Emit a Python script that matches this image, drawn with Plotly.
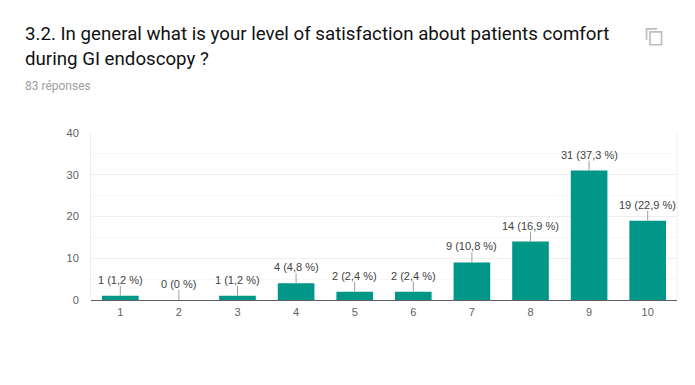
import plotly.graph_objects as go

categories = ["1", "2", "3", "4", "5", "6", "7", "8", "9", "10"]
counts = [1, 0, 1, 4, 2, 2, 9, 14, 31, 19]
labels = ["1 (1,2 %)", "0 (0 %)", "1 (1,2 %)", "4 (4,8 %)", "2 (2,4 %)", "2 (2,4 %)",
          "9 (10,8 %)", "14 (16,9 %)", "31 (37,3 %)", "19 (22,9 %)"]
y_ticks = [0, 10, 20, 30, 40]
title_lines = ["3.2. In general what is your level of satisfaction about patients comfort",
               "during GI endoscopy ?"]
subtitle = "83 réponses"

W, H = 695, 385
L, R, T, B = 90.5, 677.5, 132.5, 300.0


def px(x):
    return (x - L) / (R - L)


def py(y):
    return (B - y) / (B - T)


fig = go.Figure(go.Bar(x=categories, y=counts, marker=dict(color="#009688", line_width=0),
                       width=0.625, hoverinfo="skip",
                       error_y=dict(type="constant", value=2.4, valueminus=0, symmetric=False,
                                    width=0, thickness=1, color="#9e9e9e")))

for i, (v, t) in enumerate(zip(counts, labels)):
    fig.add_annotation(x=i, y=v, xref="x", yref="y", text=t, showarrow=False, yshift=16,
                       yanchor="middle", xanchor="center", borderpad=0,
                       font=dict(family="Liberation Sans", size=11, color="#424242"))

for i, line in enumerate(title_lines):
    fig.add_annotation(x=px(23.5), y=py(33 + i * 25.5), xref="paper", yref="paper", text=line,
                       showarrow=False, xanchor="left", yanchor="middle", borderpad=0,
                       font=dict(family="Roboto", size=18.7, color="#111111"))
fig.add_annotation(x=px(23.5), y=py(85.5), xref="paper", yref="paper", text=subtitle,
                   showarrow=False, xanchor="left", yanchor="middle", borderpad=0,
                   font=dict(family="Roboto", size=12, color="#9e9e9e"))

# copy icon
fig.add_shape(type="rect", xref="paper", yref="paper", x0=px(650.5), x1=px(662),
              y0=py(44), y1=py(31), line=dict(color="#bdbdbd", width=1.7), fillcolor="white")
fig.add_shape(type="path", xref="paper", yref="paper",
              path=f"M {px(647)} {py(39)} L {px(647)} {py(28)} L {px(657.5)} {py(28)}",
              line=dict(color="#bdbdbd", width=1.7))

fig.update_layout(
    width=W, height=H, autosize=False, paper_bgcolor="white", plot_bgcolor="white",
    margin=dict(l=L, r=W - R, t=T, b=H - B, pad=0), showlegend=False, bargap=0.375,
    font=dict(family="Liberation Sans"),
    xaxis=dict(type="category", categoryorder="array", categoryarray=categories,
               range=[-0.5, 9.5], showgrid=False, ticks="", ticklen=0, zeroline=False,
               ticklabelstandoff=4,
               tickfont=dict(family="Liberation Sans", size=11, color="#616161"),
               showline=False, fixedrange=True),
    yaxis=dict(range=[0, 40], tickvals=y_ticks, showgrid=True, gridcolor="#eeeeee", gridwidth=1,
               minor=dict(dtick=5, showgrid=True, gridcolor="#f7f7f7", gridwidth=1, ticks=""),
               zeroline=True, zerolinecolor="#616161", zerolinewidth=1, showline=True,
               linecolor="#eeeeee", linewidth=1, ticks="", ticklabelstandoff=9,
               tickfont=dict(family="Liberation Sans", size=11, color="#616161"), fixedrange=True),
)
fig.add_shape(type="line", xref="paper", yref="paper", x0=1, x1=1, y0=0, y1=1,
              line=dict(color="#eeeeee", width=1), layer="below")

fig.write_html("out.html", config={"displayModeBar": False},
               post_script="document.body.style.margin='0';document.documentElement.style.overflow='hidden';")
